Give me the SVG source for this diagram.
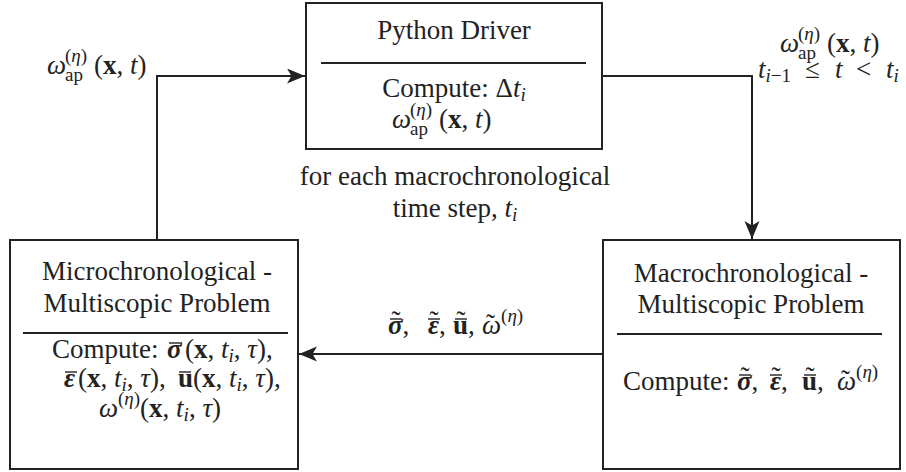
<svg xmlns="http://www.w3.org/2000/svg" width="906" height="472" viewBox="0 0 906 472">
  <style>
    .t { font-family: "Liberation Serif", "DejaVu Serif", serif; font-size: 27px; fill: #222; }
    .s { font-size: 19px; }
    .i { font-style: italic; }
    .b { font-weight: bold; }
    .bi { font-weight: bold; font-style: italic; }
    .m { text-anchor: middle; }
    .box { fill: #fff; stroke: #222; stroke-width: 2; }
    .rule { stroke: #222; stroke-width: 2; }
    .bar { stroke: #222; stroke-width: 1.4; }
    .conn { fill: none; stroke: #222; stroke-width: 2; }
  </style>
  <defs>
    <marker id="arrow" markerUnits="userSpaceOnUse" markerWidth="20" markerHeight="16" refX="18" refY="7.5" orient="auto">
      <path d="M0,0 L18,7.5 L0,15 L4.5,7.5 z" fill="#222"/>
    </marker>
  </defs>

  <!-- connectors -->
  <g id="connectors">
    <path class="conn" d="M157,240 V76 H305" marker-end="url(#arrow)"/>
    <path class="conn" d="M602,76 H752 V239" marker-end="url(#arrow)"/>
    <path class="conn" d="M603,354 H299" marker-end="url(#arrow)"/>
  </g>

  <!-- edge labels -->
  <g id="label-feedback">
    <text class="t" x="47" y="74"><tspan class="i">ω</tspan><tspan class="s" x="65" y="62">(<tspan class="i">η</tspan>)</tspan><tspan class="s" x="65" y="81">ap</tspan><tspan x="94" y="74">(</tspan><tspan class="b">x</tspan>, <tspan class="i">t</tspan>)</text>
  </g>
  <g id="label-driver-out">
    <text class="t" x="780" y="52"><tspan class="i">ω</tspan><tspan class="s" x="798" y="40">(<tspan class="i">η</tspan>)</tspan><tspan class="s" x="798" y="59">ap</tspan><tspan x="827" y="52">(</tspan><tspan class="b">x</tspan>, <tspan class="i">t</tspan>)</text>
    <text class="t" y="78"><tspan class="i" x="758">t</tspan><tspan class="s" dy="4"><tspan class="i">i</tspan>−1</tspan><tspan x="805" y="78">≤</tspan><tspan class="i" x="835">t</tspan><tspan x="856">&lt;</tspan><tspan class="i" x="886">t</tspan><tspan class="s i" dy="4">i</tspan></text>
  </g>
  <g id="label-macro-out">
    <text class="t" y="334"><tspan x="388" class="bi">σ</tspan>,<tspan x="391.5" y="330">˜</tspan><tspan x="428" y="334" class="bi">ε</tspan>,<tspan x="429.5" y="330">˜</tspan><tspan x="453" y="334" class="b">u</tspan>,<tspan x="456.5" y="330">˜</tspan><tspan x="482" y="334" class="i">ω</tspan><tspan class="s" dy="-12">(<tspan class="i">η</tspan>)</tspan><tspan x="486" y="333">˜</tspan></text>
    <line class="bar" x1="390" y1="319" x2="402" y2="319"/>
    <line class="bar" x1="428" y1="319" x2="440" y2="319"/>
    <line class="bar" x1="455" y1="319" x2="467" y2="319"/>
  </g>
  <g id="label-loop">
    <text class="t m" x="455" y="185">for each macrochronological</text>
    <text class="t m" x="455" y="217">time step, <tspan class="i">t</tspan><tspan class="s i" dy="4">i</tspan></text>
  </g>

  <!-- Python driver -->
  <g id="node-driver">
    <rect class="box" x="306" y="3" width="296" height="146"/>
    <line class="rule" x1="321" y1="63" x2="586" y2="63"/>
    <text class="t m" x="454" y="39">Python Driver</text>
    <text class="t m" x="454" y="97">Compute: Δ<tspan class="i">t</tspan><tspan class="s i" dy="4">i</tspan></text>
    <text class="t" x="392" y="128"><tspan class="i">ω</tspan><tspan class="s" x="410" y="116">(<tspan class="i">η</tspan>)</tspan><tspan class="s" x="410" y="135">ap</tspan><tspan x="439" y="128">(</tspan><tspan class="b">x</tspan>, <tspan class="i">t</tspan>)</text>
  </g>

  <!-- microchronological problem -->
  <g id="node-micro">
    <rect class="box" x="10" y="240" width="288" height="229"/>
    <line class="rule" x1="23" y1="333" x2="288" y2="333"/>
    <text class="t m" x="157" y="280">Microchronological -</text>
    <text class="t m" x="157" y="312">Multiscopic Problem</text>
    <text class="t" y="358"><tspan x="52">Compute:</tspan><tspan x="167" class="bi">σ</tspan><tspan x="185">(</tspan><tspan class="b">x</tspan>, <tspan class="i">t</tspan><tspan class="s i" dy="4">i</tspan><tspan dy="-4">, </tspan><tspan class="i">τ</tspan>),</text>
    <line class="bar" x1="169" y1="343" x2="182" y2="343"/>
    <text class="t" y="387"><tspan x="64" class="bi">ε</tspan><tspan x="78">(</tspan><tspan class="b">x</tspan>, <tspan class="i">t</tspan><tspan class="s i" dy="4">i</tspan><tspan dy="-4">, </tspan><tspan class="i">τ</tspan>), <tspan x="178" class="b">u</tspan><tspan x="193">(</tspan><tspan class="b">x</tspan>, <tspan class="i">t</tspan><tspan class="s i" dy="4">i</tspan><tspan dy="-4">, </tspan><tspan class="i">τ</tspan>),</text>
    <line class="bar" x1="65" y1="372" x2="77" y2="372"/>
    <line class="bar" x1="179" y1="372" x2="191" y2="372"/>
    <text class="t m" x="160" y="417"><tspan class="i">ω</tspan><tspan class="s" dy="-12">(<tspan class="i">η</tspan>)</tspan><tspan dy="12">(</tspan><tspan class="b">x</tspan>, <tspan class="i">t</tspan><tspan class="s i" dy="4">i</tspan><tspan dy="-4">, </tspan><tspan class="i">τ</tspan>)</text>
  </g>

  <!-- macrochronological problem -->
  <g id="node-macro">
    <rect class="box" x="603" y="240" width="297" height="229"/>
    <line class="rule" x1="617" y1="334" x2="882" y2="334"/>
    <text class="t m" x="751" y="282">Macrochronological -</text>
    <text class="t m" x="751" y="313">Multiscopic Problem</text>
    <text class="t" y="390"><tspan x="623">Compute:</tspan><tspan x="737" class="bi">σ</tspan>,<tspan x="740.5" y="386">˜</tspan><tspan x="770" y="390" class="bi">ε</tspan>,<tspan x="771.5" y="386">˜</tspan><tspan x="802" y="390" class="b">u</tspan>,<tspan x="805.5" y="386">˜</tspan><tspan x="837" y="390" class="i">ω</tspan><tspan class="s" dy="-12">(<tspan class="i">η</tspan>)</tspan><tspan x="841" y="389">˜</tspan></text>
    <line class="bar" x1="739" y1="375" x2="751" y2="375"/>
    <line class="bar" x1="770" y1="375" x2="782" y2="375"/>
    <line class="bar" x1="804" y1="375" x2="816" y2="375"/>
  </g>
</svg>
